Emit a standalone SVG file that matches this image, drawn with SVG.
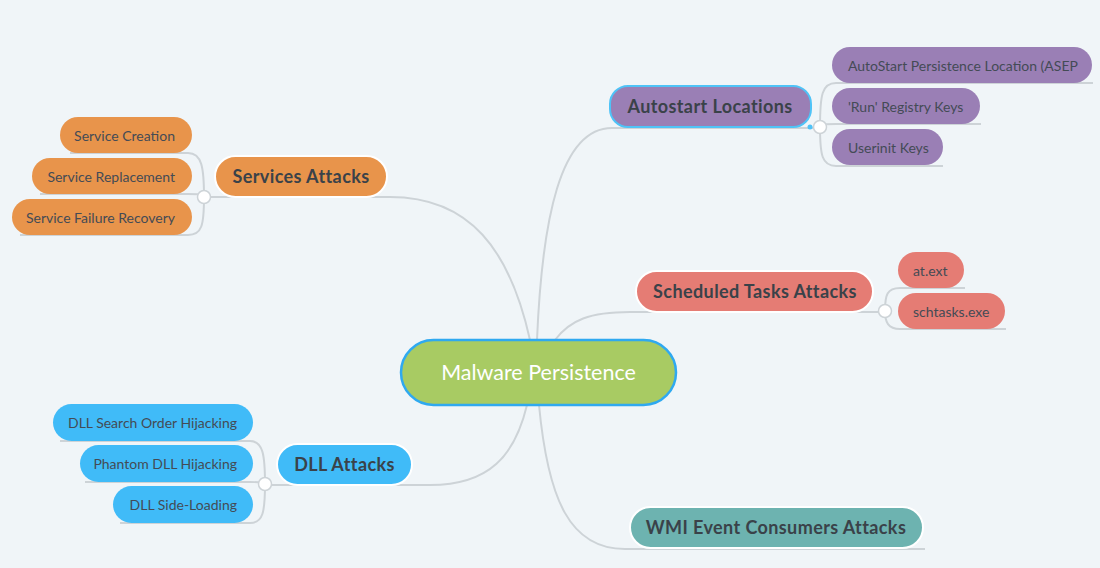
<svg xmlns="http://www.w3.org/2000/svg" width="1100" height="568" viewBox="0 0 1100 568">
  <style>
    .bg { fill: #f0f5f8; }
    .conn { fill: none; stroke: #cdd3d7; stroke-width: 2; }
    .knob { fill: #ffffff; stroke: #cdd3d7; stroke-width: 1.5; }
    .topic { font-family: Lato, "Open Sans", "Liberation Sans", sans-serif; font-weight: 700; font-size: 18px; letter-spacing: 0.4px; fill: #3a4249; }
    .sub { font-family: Lato, "Open Sans", "Liberation Sans", sans-serif; font-size: 14px; fill: #444b55; }
    .center { font-family: Lato, "Open Sans", "Liberation Sans", sans-serif; font-size: 21.5px; fill: #ffffff; }
    .tstroke { stroke: #ffffff; stroke-width: 2; }
    .purple { fill: #9a7fb5; }
    .orange { fill: #e8944b; }
    .salmon { fill: #e57c74; }
    .blue { fill: #40bbf8; }
    .teal { fill: #6db3b0; }
  </style>
  <rect class="bg" x="0" y="0" width="1100" height="568"/>

  <g id="connectors">
    <path class="conn" d="M530,340 C510,250 470,197 390,197 L204,197"/>
    <path class="conn" d="M537,340 C542,220 560,128 612,128 L820,128"/>
    <path class="conn" d="M555,340 C570,320 590,312 630,312 L885,312"/>
    <path class="conn" d="M527,405 C515,455 490,485 430,485 L265,485"/>
    <path class="conn" d="M539,405 C548,500 570,549 625,549 L925,549"/>

    <path class="conn" d="M204,197 C204,168 202,153 188,153 L70,153"/>
    <path class="conn" d="M204,197 C202,194 198,194 188,194 L40,194"/>
    <path class="conn" d="M204,197 C204,225 202,235 188,235 L20,235"/>

    <path class="conn" d="M820,127 C820,95 822,83 836,83 L1093,83"/>
    <path class="conn" d="M820,127 C821,124 826,124 836,124 L981,124"/>
    <path class="conn" d="M820,127 C820,155 822,166 836,166 L943,166"/>

    <path class="conn" d="M885,311 C885,295 887,288 900,288 L965,288"/>
    <path class="conn" d="M885,311 C885,322 888,329 900,329 L1006,329"/>

    <path class="conn" d="M265,484 C265,455 263,441 250,441 L60,441"/>
    <path class="conn" d="M265,484 C263,482 258,482 250,482 L85,482"/>
    <path class="conn" d="M265,484 C265,512 263,523 250,523 L120,523"/>

    <circle class="knob" cx="204" cy="197" r="6.5"/>
    <circle class="knob" cx="820" cy="127" r="6.5"/>
    <circle class="knob" cx="885" cy="311" r="6.5"/>
    <circle class="knob" cx="265" cy="484" r="6.5"/>
  </g>

  <g id="central">
    <rect x="401" y="340" width="275" height="65" rx="32.5" fill="#a8cb63" stroke="#2fa9f0" stroke-width="2.5"/>
    <text class="center" x="538.5" y="379.5" text-anchor="middle">Malware Persistence</text>
  </g>

  <g id="autostart">
    <rect class="purple" x="610" y="86" width="201" height="41" rx="18" stroke="#4fc3f7" stroke-width="2"/>
    <circle cx="810" cy="127" r="2.5" fill="#4fc3f7"/>
    <text class="topic" x="710" y="113" text-anchor="middle">Autostart Locations</text>
  </g>
  <g id="asep">
    <rect class="purple" x="832" y="47" width="260" height="36" rx="18"/>
    <text class="sub" x="848" y="70.5">AutoStart Persistence Location (ASEP</text>
  </g>
  <g id="run-keys">
    <rect class="purple" x="832" y="88" width="148" height="36" rx="18"/>
    <text class="sub" x="848" y="111.5">'Run' Registry Keys</text>
  </g>
  <g id="userinit">
    <rect class="purple" x="832" y="129" width="111" height="36" rx="18"/>
    <text class="sub" x="848" y="152.5">Userinit Keys</text>
  </g>

  <g id="services">
    <rect class="orange tstroke" x="215" y="156" width="172" height="41" rx="20.5"/>
    <text class="topic" x="301" y="183" text-anchor="middle">Services Attacks</text>
  </g>
  <g id="service-creation">
    <rect class="orange" x="60" y="117" width="132" height="36" rx="18"/>
    <text class="sub" x="175" y="140.5" text-anchor="end">Service Creation</text>
  </g>
  <g id="service-replacement">
    <rect class="orange" x="32" y="158" width="160" height="36" rx="18"/>
    <text class="sub" x="175" y="181.5" text-anchor="end">Service Replacement</text>
  </g>
  <g id="service-failure">
    <rect class="orange" x="12" y="199" width="180" height="36" rx="18"/>
    <text class="sub" x="175" y="222.5" text-anchor="end">Service Failure Recovery</text>
  </g>

  <g id="scheduled">
    <rect class="salmon tstroke" x="636" y="271" width="237" height="41" rx="20.5"/>
    <text class="topic" x="755" y="297.5" text-anchor="middle">Scheduled Tasks Attacks</text>
  </g>
  <g id="at-ext">
    <rect class="salmon" x="898" y="252" width="66" height="36" rx="18"/>
    <text class="sub" x="913" y="275.5">at.ext</text>
  </g>
  <g id="schtasks">
    <rect class="salmon" x="898" y="293" width="107" height="36" rx="18"/>
    <text class="sub" x="913" y="316.5">schtasks.exe</text>
  </g>

  <g id="dll">
    <rect class="blue tstroke" x="277" y="444" width="135" height="41" rx="20.5"/>
    <text class="topic" x="344.5" y="471" text-anchor="middle">DLL Attacks</text>
  </g>
  <g id="dll-search">
    <rect class="blue" x="53" y="404" width="200" height="37" rx="18.5"/>
    <text class="sub" x="237" y="428" text-anchor="end">DLL Search Order Hijacking</text>
  </g>
  <g id="dll-phantom">
    <rect class="blue" x="80" y="445" width="173" height="37" rx="18.5"/>
    <text class="sub" x="237" y="469" text-anchor="end">Phantom DLL Hijacking</text>
  </g>
  <g id="dll-sideload">
    <rect class="blue" x="113" y="486" width="140" height="37" rx="18.5"/>
    <text class="sub" x="237" y="510" text-anchor="end">DLL Side-Loading</text>
  </g>

  <g id="wmi">
    <rect class="teal tstroke" x="630" y="507" width="293" height="41" rx="20.5"/>
    <text class="topic" x="776" y="534" text-anchor="middle">WMI Event Consumers Attacks</text>
  </g>
</svg>
